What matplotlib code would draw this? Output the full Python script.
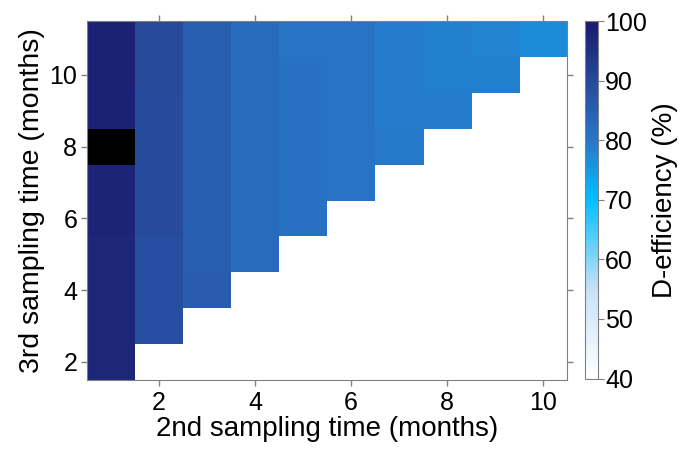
import numpy as np
import matplotlib
matplotlib.use('Agg')
import matplotlib.pyplot as plt
from matplotlib.colors import LinearSegmentedColormap

plt.rcParams['font.family'] = ['Liberation Sans', 'DejaVu Sans']

# 2nd sampling time (columns) and 3rd sampling time (rows), months
second_time = [1, 2, 3, 4, 5, 6, 7, 8, 9, 10]
third_time = [2, 3, 4, 5, 6, 7, 8, 9, 10, 11]

# D-efficiency (%), one row per 3rd sampling time; None = not possible
nan = None
d_eff = [
    [97.0, nan, nan, nan, nan, nan, nan, nan, nan, nan],                  # 2
    [97.0, 89.0, nan, nan, nan, nan, nan, nan, nan, nan],                 # 3
    [97.0, 89.0, 85.5, nan, nan, nan, nan, nan, nan, nan],                # 4
    [97.0, 89.0, 85.0, 82.5, nan, nan, nan, nan, nan, nan],               # 5
    [97.5, 89.5, 85.0, 82.5, 81.0, nan, nan, nan, nan, nan],              # 6
    [97.5, 89.5, 85.0, 82.5, 81.0, 80.5, nan, nan, nan, nan],             # 7
    [101.0, 89.5, 85.0, 82.5, 81.0, 80.5, 79.5, nan, nan, nan],           # 8 (best design)
    [98.0, 89.5, 85.0, 82.5, 81.0, 80.5, 79.0, 79.0, nan, nan],           # 9
    [98.0, 90.0, 85.0, 82.5, 81.0, 80.5, 79.0, 78.5, 78.5, nan],          # 10
    [98.0, 90.0, 85.0, 82.5, 80.5, 80.5, 79.0, 78.5, 78.0, 77.0],         # 11
]
Z = np.array([[np.nan if v is None else v for v in row] for row in d_eff])

cmap = LinearSegmentedColormap.from_list('deff', [
    (0.0, (1.0, 1.0, 1.0)),
    (0.25, (0.78, 0.88, 0.97)),
    (0.5, (0.0, 0.75, 1.0)),
    (0.667, (0.16, 0.46, 0.78)),
    (0.833, (0.15, 0.29, 0.61)),
    (1.0, (0.10, 0.10, 0.43)),
])
cmap.set_over('black')
cmap.set_bad((1, 1, 1, 0))

fig = plt.figure(figsize=(6.85, 4.49), dpi=100)
ax = fig.add_axes([0.127, 0.154, 0.701, 0.799])
im = ax.imshow(Z, origin='lower', cmap=cmap, vmin=40, vmax=100, aspect='auto',
               interpolation='nearest',
               extent=(second_time[0] - 0.5, second_time[-1] + 0.5,
                       third_time[0] - 0.5, third_time[-1] + 0.5))

ax.set_xticks([2, 4, 6, 8, 10])
ax.set_yticks([2, 4, 6, 8, 10])
ax.tick_params(direction='out', length=4, width=1, color='0.5', labelsize=18,
               top=True, right=True, labeltop=False, labelright=False, pad=3)
ax.tick_params(axis='x', pad=4)
for s in ax.spines.values():
    s.set_color('0.5')
ax.set_xlabel('2nd sampling time (months)', fontsize=20, labelpad=1)
ax.set_ylabel('3rd sampling time (months)', fontsize=20.5, labelpad=3)

cax = fig.add_axes([0.854, 0.157, 0.019, 0.796])
cb = fig.colorbar(im, cax=cax, ticks=[40, 50, 60, 70, 80, 90, 100])
cb.outline.set_edgecolor('0.5')
cax.tick_params(direction='out', length=4, color='0.5', labelsize=18, pad=1)
cb.set_label('D-efficiency (%)', fontsize=20, labelpad=4)

fig.savefig('out.png', dpi=100)
